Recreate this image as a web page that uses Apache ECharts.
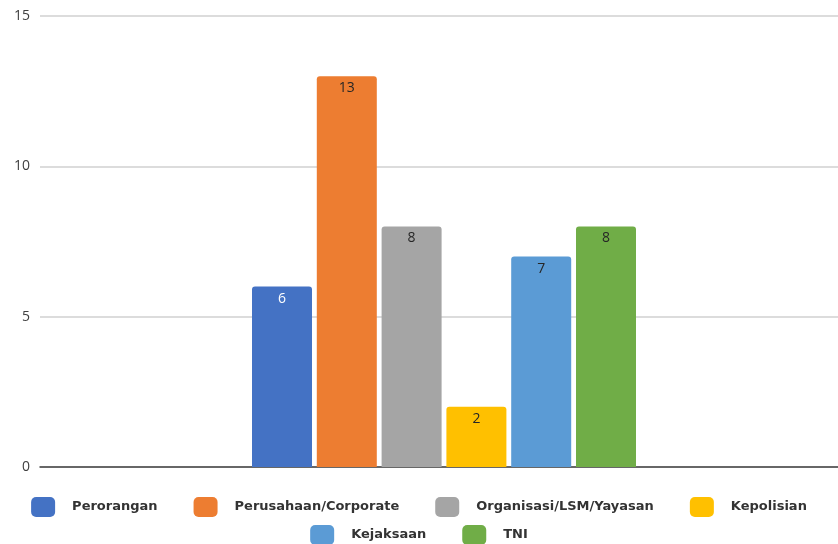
<!DOCTYPE html>
<html>
<head>
<meta charset="utf-8">
<script src="https://cdn.jsdelivr.net/npm/echarts@6/dist/echarts.min.js"></script>
<style>
  html, body { margin: 0; padding: 0; background: #fff; }
  #chart { width: 838px; height: 544px; }
</style>
</head>
<body>
<div id="chart"></div>
<script>
// data
const seriesNames = ['Perorangan', 'Perusahaan/Corporate', 'Organisasi/LSM/Yayasan', 'Kepolisian', 'Kejaksaan', 'TNI'];
const seriesValues = [6, 13, 8, 2, 7, 8];
const seriesColors = ['#4472C4', '#ED7D31', '#A5A5A5', '#FFC000', '#5B9BD5', '#70AD47'];
const labelColors = ['#ffffff', '#262626', '#262626', '#262626', '#262626', '#262626'];
const categories = [''];

const chart = echarts.init(document.getElementById('chart'));

const legendText = {
  fontFamily: 'DejaVu Sans',
  fontWeight: 'bold',
  fontSize: 13,
  color: '#333333',
  padding: [0, 0, 0, 12],
};

const series = seriesNames.map((name, i) => ({
  name,
  type: 'bar',
  barWidth: 60,
  barGap: '8%',
  itemStyle: { color: seriesColors[i], borderRadius: [3, 3, 0, 0] },
  label: {
    show: true,
    position: 'insideTop',
    distance: 5,
    color: labelColors[i],
    fontFamily: 'Open Sans',
    fontSize: 14,
  },
  data: [seriesValues[i]],
}));

chart.setOption({
  animation: false,
  grid: { left: 40, right: -10, top: 16, bottom: 77, outerBoundsMode: 'none' },
  legend: [
    {
      data: seriesNames.slice(0, 4),
      left: 'center',
      top: 492,
      itemWidth: 24,
      itemHeight: 20,
      itemGap: 36,
      icon: 'roundRect',
      textStyle: legendText,
    },
    {
      data: seriesNames.slice(4),
      left: 'center',
      top: 520,
      itemWidth: 24,
      itemHeight: 20,
      itemGap: 36,
      icon: 'roundRect',
      textStyle: legendText,
    },
  ],
  xAxis: {
    type: 'category',
    data: categories,
    axisLine: { lineStyle: { color: '#404040', width: 1.5 } },
    axisTick: { show: false },
    axisLabel: { show: false },
  },
  yAxis: {
    type: 'value',
    min: 0,
    max: 15,
    interval: 5,
    axisLabel: { color: '#404040', fontFamily: 'Open Sans', fontSize: 14, margin: 10 },
    splitLine: { lineStyle: { color: '#d0d0d0', width: 1.5 } },
  },
  series,
});
</script>
</body>
</html>
